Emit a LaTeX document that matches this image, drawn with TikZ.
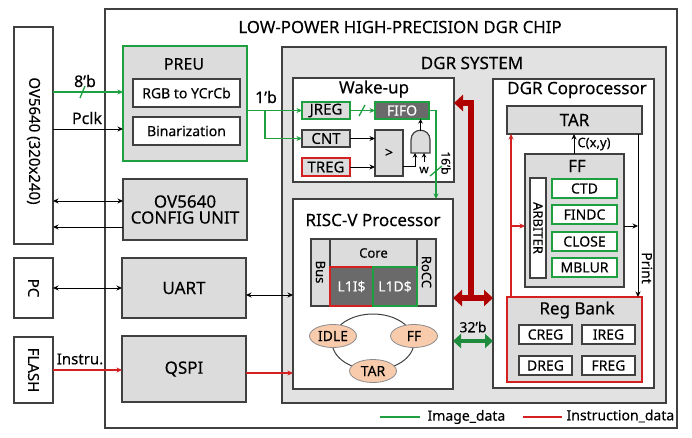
\documentclass[tikz,border=0pt]{standalone}
\usepackage{fontspec}
\setmainfont{Noto Sans}[FakeBold=0.2]
\usetikzlibrary{arrows.meta,calc,shapes.geometric}
\definecolor{bd}{HTML}{404040}
\definecolor{gb}{HTML}{DCDCDC}
\definecolor{sysbg}{HTML}{E2E2E2}
\definecolor{gr}{HTML}{1FA040}
\definecolor{rd}{HTML}{D42020}
\definecolor{dred}{HTML}{B00000}
\definecolor{dgr}{HTML}{1E8C3C}
\definecolor{dk}{HTML}{6A6A6A}
\definecolor{peach}{HTML}{F8CBAD}
\tikzset{
  blk/.style={draw=bd,line width=1.2pt,fill=gb,anchor=north west,inner sep=0pt,outer sep=0pt,font=\fontsize{14}{16}\selectfont},
  wblk/.style={blk,fill=white},
  t17/.style={font=\fontsize{17}{19}\selectfont},
  t16/.style={font=\fontsize{16}{18}\selectfont},
  t15/.style={font=\fontsize{15}{17}\selectfont},
  t14/.style={font=\fontsize{14}{16}\selectfont},
  t13/.style={font=\fontsize{13}{15}\selectfont},
  t12/.style={font=\fontsize{12}{14}\selectfont},
  arr/.style={-{Stealth[length=5.5pt,width=5pt]},line width=1pt,draw=black},
  darr/.style={{Stealth[length=5.5pt,width=5pt]}-{Stealth[length=5.5pt,width=5pt]},line width=1pt,draw=black},
  garr/.style={arr,draw=gr,line width=1.4pt},
  rarr/.style={arr,draw=rd,line width=1.2pt},
  slash/.style={line width=1.3pt},
  oval/.style={ellipse,draw=bd!60,fill=peach,line width=0.8pt,minimum width=47pt,minimum height=23pt,inner sep=0pt,font=\fontsize{14}{16}\selectfont},
}
\begin{document}
\begin{tikzpicture}[x=1pt,y=-1pt]
\useasboundingbox (0,0) rectangle (692,437);
% outer chip
\node[wblk,minimum width=572pt,minimum height=419pt] (chip) at (105,9) {};
\node[font=\fontsize{16.8}{19}\selectfont] (chiptitle) at (400,27) {LOW-POWER HIGH-PRECISION DGR CHIP};
% external boxes
\node[wblk,minimum width=39pt,minimum height=217pt] (ov) at (14,27) {};
\node[t15,rotate=-90] (ovt) at (33.5,141) {OV5640 (320x240)};
\node[wblk,minimum width=39pt,minimum height=60pt] (pc) at (14,258) {};
\node[t15,rotate=-90] (pct) at (33.5,288) {PC};
\node[wblk,minimum width=39pt,minimum height=66pt] (flash) at (14,337) {};
\node[t15,rotate=-90] (flasht) at (33.5,370) {FLASH};
% PREU
\node[blk,draw=gr,minimum width=124pt,minimum height=115pt] (preu) at (123,46) {};
\node[t16] (preut) at (184,64) {PREU};
\node[wblk,t14,minimum width=107pt,minimum height=28pt] (rgb) at (133,79) {RGB to YCrCb};
\node[wblk,t14,minimum width=107pt,minimum height=28pt] (bin) at (133,117) {Binarization};
% config, uart, qspi
\node[blk,t17,minimum width=124pt,minimum height=61pt,align=center] (cfg) at (123,179) {OV5640\\[-3pt]CONFIG UNIT};
\node[blk,t17,minimum width=124pt,minimum height=60pt] (uart) at (122,258) {UART};
\node[blk,t17,minimum width=124pt,minimum height=66pt] (qspi) at (122,336) {QSPI};
% DGR system
\node[blk,fill=sysbg,minimum width=384pt,minimum height=356pt] (sys) at (282,47) {};
\node[t17] (syst) at (472,63) {DGR SYSTEM};
% Wake-up
\node[wblk,minimum width=161pt,minimum height=104pt] (wake) at (293,78) {};
\node[t17] (waket) at (374,89) {Wake-up};
\node[blk,draw=gr,t15,minimum width=48pt,minimum height=17pt] (jreg) at (302,102) {JREG};
\node[blk,draw=gr,fill=dk,text=white,t14,minimum width=54pt,minimum height=17pt] (fifo) at (375,102) {FIFO};
\node[blk,t15,minimum width=48pt,minimum height=17pt] (cnt) at (302,130) {CNT};
\node[blk,draw=rd,t15,minimum width=48pt,minimum height=18pt] (treg) at (302,158) {TREG};
\node[blk,t14,minimum width=28pt,minimum height=46pt] (cmp) at (375,130) {>};
\draw[draw=bd,fill=gb,line width=1.2pt] (411,153) -- (411,140) .. controls (411,127) and (430,127) .. (430,140) -- (430,153) -- cycle;
\coordinate (gtop) at (420.5,130.5);
\coordinate (gin1) at (415,153);
\coordinate (gin2) at (424,153);
\coordinate (win) at (424,162);
\node[t12] (wlab) at (424,170) {w};
% RISC-V
\node[wblk,minimum width=160pt,minimum height=190pt] (risc) at (293,199) {};
\node[t17] (risct) at (373,220) {RISC-V Processor};
\node[blk,minimum width=19pt,minimum height=67pt] (bus) at (311,239) {};
\node[t13,rotate=-90] (bust) at (320.5,272) {Bus};
\node[blk,minimum width=19pt,minimum height=67pt] (rocc) at (417,239) {};
\node[t13,rotate=-90] (rocct) at (426.5,272) {RoCC};
\node[blk,t13,minimum width=87pt,minimum height=28pt] (core) at (330,239) {Core};
\node[blk,draw=rd,fill=dk,text=white,t14,minimum width=43pt,minimum height=39pt] (l1i) at (330,267) {L1I\$};
\node[blk,draw=gr,fill=dk,text=white,t14,minimum width=44pt,minimum height=39pt] (l1d) at (373,267) {L1D\$};
\draw[bd,line width=1pt] (373,342) ellipse [x radius=41, y radius=28];
\node[oval] (idle) at (333,336) {IDLE};
\node[oval] (ffs) at (414,336) {FF};
\node[oval] (tars) at (373,371) {TAR};
% Coprocessor
\node[wblk,minimum width=161pt,minimum height=309pt] (cop) at (493,79) {};
\node[t17] (copt) at (577,90) {DGR Coprocessor};
\node[blk,t17,minimum width=135pt,minimum height=28pt] (tar) at (507,106) {TAR};
\node[blk,minimum width=99pt,minimum height=133pt] (ff) at (525,154) {};
\node[t17] (fft) at (577,166) {FF};
\node[wblk,minimum width=16pt,minimum height=100pt] (arb) at (530,178) {};
\node[t13,rotate=-90] (arbt) at (538,228) {ARBITER};
\node[wblk,draw=gr,minimum width=65pt,minimum height=19pt] (ctd) at (552,179) {CTD};
\node[wblk,draw=gr,minimum width=65pt,minimum height=19pt] (findc) at (552,205) {FINDC};
\node[wblk,draw=gr,minimum width=65pt,minimum height=19pt] (close) at (552,232) {CLOSE};
\node[wblk,draw=gr,minimum width=65pt,minimum height=19pt] (mblur) at (552,258) {MBLUR};
\node[blk,draw=rd,minimum width=135pt,minimum height=85pt] (reg) at (507,297) {};
\node[t17] (regt) at (577,310) {Reg Bank};
\node[wblk,minimum width=53pt,minimum height=19pt] (creg) at (519,325) {CREG};
\node[wblk,minimum width=53pt,minimum height=19pt] (ireg) at (582,325) {IREG};
\node[wblk,minimum width=53pt,minimum height=19pt] (dreg) at (519,356) {DREG};
\node[wblk,minimum width=53pt,minimum height=19pt] (freg) at (582,356) {FREG};
% ---------- connectors ----------
% camera
\draw[garr] (ov.east |- 0,92) -- (preu.west |- 0,92);
\draw[gr,slash] (80,98) -- (85,86);
\node[t16] (b8) at (85,81) {8'b};
\draw[arr] (ov.east |- 0,129) -- (preu.west |- 0,129);
\node[t16] (pclk) at (87,118) {Pclk};
\draw[darr] (ov.east |- 0,201) -- (cfg.west |- 0,201);
\draw[arr] (cfg.west |- 0,227) -- (ov.east |- 0,227);
\draw[darr] (pc.east |- 0,288) -- (uart.west |- 0,288);
\draw[darr] (uart.east |- 0,295) -- (risc.west |- 0,295);
\draw[rarr] (flash.east |- 0,370) -- (qspi.west |- 0,370);
\node[t15] (instr) at (80,359) {Instru.};
\draw[rarr] (qspi.east |- 0,373) -- (risc.west |- 0,373);
% 1'b
\coordinate (br) at (265,110.5);
\draw[garr] (preu.east |- br) -- (jreg.west |- br);
\draw[garr] (br) -- (265,138.5) -- (cnt.west);
\node[t16] (b1) at (266,97) {1'b};
\draw[garr] (jreg.east) -- (fifo.west);
\draw[gr,slash] (359,116) -- (365,105);
\draw[arr] (cnt.east) -- (cmp.west |- cnt.east);
\draw[arr] (treg.east |- 0,167) -- (cmp.west |- 0,167);
\draw[arr,-{Stealth[length=4.5pt,width=4.5pt]}] (403,166) -| (gin1);
\draw[arr,-{Stealth[length=4.5pt,width=4.5pt]}] (win) -- (gin2);
\draw[arr,-{Stealth[length=4.5pt,width=4.5pt]}] (gtop) -- (fifo.south -| gtop);
\draw[garr] (fifo.east) -- (436,110.5) -- (risc.north -| 436,0);
\draw[gr,slash] (430,176) -- (442,166);
\node[t12,rotate=-90] (b16) at (446,163) {16'b};
% buses
\coordinate (busT) at (471,103);
\coordinate (busB) at (471,298);
\draw[dred,line width=5.5pt,{Triangle[length=9pt,width=16pt]}-,line join=miter] (wake.east |- busT) -- (busT) -- (busB);
\draw[dred,line width=5.5pt,{Triangle[length=9pt,width=16pt]}-{Triangle[length=9pt,width=16pt]}] (risc.east |- busB) -- (cop.west |- busB);
\draw[dgr,line width=4.5pt,{Triangle[length=8pt,width=14pt]}-{Triangle[length=8pt,width=14pt]}] (risc.east |- 0,341) -- (cop.west |- 0,341);
\node[t14] (b32) at (473,327) {32'b};
% coprocessor
\draw[arr] (ff.north -| 574,0) -- (tar.south -| 574,0);
\node[t13] (cxy) at (594,144) {C(x,y)};
\draw[rarr] (reg.north -| 511,0) -- (tar.south -| 511,0);
\draw[rarr] (511,226) -- (ff.west |- 0,226);
\draw[arr] (tar.south -| 638,0) -- (reg.north -| 638,0);
\draw[arr] (ff.east |- 0,226) -- (638,226);
\node[t14,rotate=-90] (print) at (647,268) {Print};
% legend
\coordinate (lg1) at (380,417);
\coordinate (lg2) at (420,417);
\coordinate (lr1) at (523,417);
\coordinate (lr2) at (562,417);
\draw[gr,line width=1.1pt] (lg1) -- (lg2);
\node[t14,anchor=west] (limg) at (424,417) {Image\_data};
\draw[rd,line width=1.1pt] (lr1) -- (lr2);
\node[t14,anchor=west] (lins) at (563,416) {Instruction\_data};
\end{tikzpicture}
\end{document}
